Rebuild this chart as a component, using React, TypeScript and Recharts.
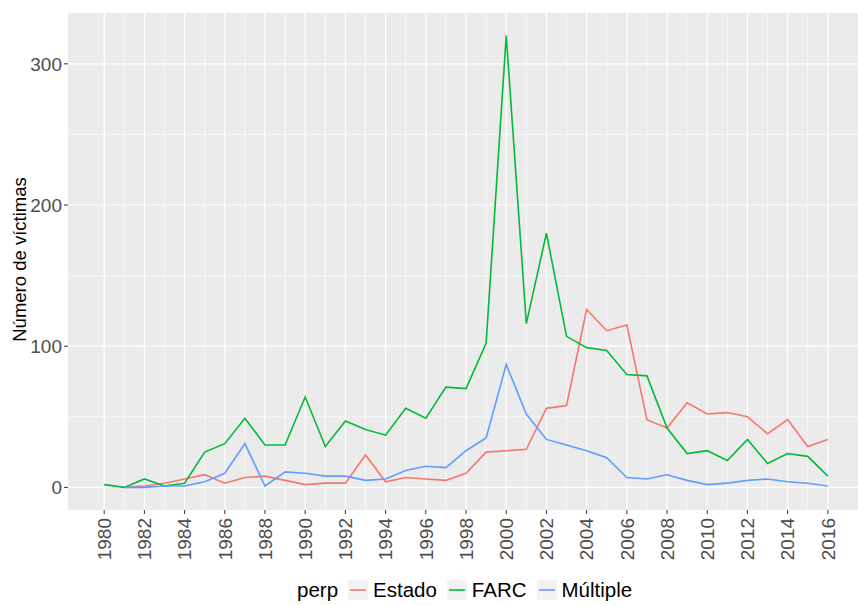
import React from 'react';
import { LineChart, Line, XAxis, YAxis, CartesianGrid } from 'recharts';

// años 1980-2016
const years = [
  1980, 1981, 1982, 1983, 1984, 1985, 1986, 1987, 1988, 1989,
  1990, 1991, 1992, 1993, 1994, 1995, 1996, 1997, 1998, 1999,
  2000, 2001, 2002, 2003, 2004, 2005, 2006, 2007, 2008, 2009,
  2010, 2011, 2012, 2013, 2014, 2015, 2016,
];

const estado = [
  null, 0, 1, 3, 6, 9, 3, 7, 8, 5,
  2, 3, 3, 23, 4, 7, 6, 5, 10, 25,
  26, 27, 56, 58, 126, 111, 115, 48, 42, 60,
  52, 53, 50, 38, 48, 29, 34,
];

const farc = [
  2, 0, 6, 1, 3, 25, 31, 49, 30, 30,
  64, 29, 47, 41, 37, 56, 49, 71, 70, 102,
  320, 116, 180, 107, 99, 97, 80, 79, 42, 24,
  26, 19, 34, 17, 24, 22, 8,
];

const multiple = [
  null, 0, 0, 1, 1, 4, 10, 31, 1, 11,
  10, 8, 8, 5, 6, 12, 15, 14, 26, 35,
  87, 52, 34, 30, 26, 21, 7, 6, 9, 5,
  2, 3, 5, 6, 4, 3, 1,
];

const xTicks = years.filter(y => y % 2 === 0);
const xMinor = years.filter(y => y % 2 === 1);
const yTicks = [0, 100, 200, 300];
const yMinor = [50, 150, 250];

const series = [
  { key: 'Estado', color: '#F8766D' },
  { key: 'FARC', color: '#00BA38' },
  { key: 'Múltiple', color: '#619CFF' },
];

const data = years.map((year, i) => ({
  year,
  Estado: estado[i],
  FARC: farc[i],
  'Múltiple': multiple[i],
}));

const FONT = '"Liberation Sans", Arial, Helvetica, sans-serif';

const XTick = (props: any) => {
  const { x, y, payload } = props;
  return (
    <g transform={`translate(${x},${y})`}>
      <text
        transform="rotate(-90)"
        x={-2}
        y={0}
        dy="0.36em"
        textAnchor="end"
        fill="#4D4D4D"
        fontSize={19}
        fontFamily={FONT}
      >
        {payload.value}
      </text>
    </g>
  );
};

const YTitle = (props: any) => {
  const vb = props.viewBox || { y: 13, height: 497 };
  const cy = vb.y + vb.height / 2 - 2;
  return (
    <text
      x={19}
      y={cy}
      transform={`rotate(-90, 19, ${cy})`}
      textAnchor="middle"
      dominantBaseline="central"
      fontSize={18.5}
      fontFamily={FONT}
      fill="#000"
    >
      Número de víctimas
    </text>
  );
};

const LegendBox = () => (
  <div
    style={{
      position: 'absolute',
      left: 297,
      top: 578,
      height: 24,
      display: 'flex',
      alignItems: 'center',
      fontFamily: FONT,
      fontSize: 20.5,
      color: '#000',
      whiteSpace: 'nowrap',
    }}
  >
    <span style={{ marginRight: 10 }}>perp</span>
    {series.map(s => (
      <span key={s.key} style={{ display: 'flex', alignItems: 'center', marginRight: 10 }}>
        <svg width={20} height={20} style={{ marginRight: 5 }}>
          <rect x={0} y={0} width={20} height={20} fill="#F2F2F2" />
          <line x1={2} y1={10} x2={18} y2={10} stroke={s.color} strokeWidth={1.6} />
        </svg>
        <span>{s.key}</span>
      </span>
    ))}
  </div>
);

export default function App() {
  return (
    <div style={{ position: 'absolute', left: 0, top: 0, width: 858, height: 605, background: '#fff', overflow: 'hidden' }}>
      <LineChart
        width={858}
        height={605}
        data={data}
        margin={{ top: 13, right: 0, bottom: 0, left: 0 }}
      >
        <CartesianGrid
          fill="#EBEBEB"
          stroke="#FFFFFF"
          strokeWidth={0.6}
          horizontalValues={yMinor}
          verticalValues={xMinor}
        />
        <CartesianGrid
          stroke="#FFFFFF"
          strokeWidth={1.2}
          horizontalValues={yTicks}
          verticalValues={xTicks}
        />
        <XAxis
          dataKey="year"
          type="number"
          domain={[1978.2, 2017.5]}
          ticks={xTicks}
          allowDataOverflow
          interval={0}
          height={95}
          axisLine={false}
          tickSize={4}
          tickLine={{ stroke: '#333333' }}
          tick={<XTick />}
        />
        <YAxis
          type="number"
          domain={[-16, 336]}
          ticks={yTicks}
          allowDataOverflow
          width={68}
          axisLine={false}
          tickSize={4}
          tickMargin={2}
          tickLine={{ stroke: '#333333' }}
          tick={{ fill: '#4D4D4D', fontSize: 19, fontFamily: FONT }}
          label={{ content: <YTitle /> }}
        />
        {series.map(s => (
          <Line
            key={s.key}
            type="linear"
            dataKey={s.key}
            stroke={s.color}
            strokeWidth={1.6}
            dot={false}
            activeDot={false}
            isAnimationActive={false}
          />
        ))}
      </LineChart>
      <LegendBox />
    </div>
  );
}
